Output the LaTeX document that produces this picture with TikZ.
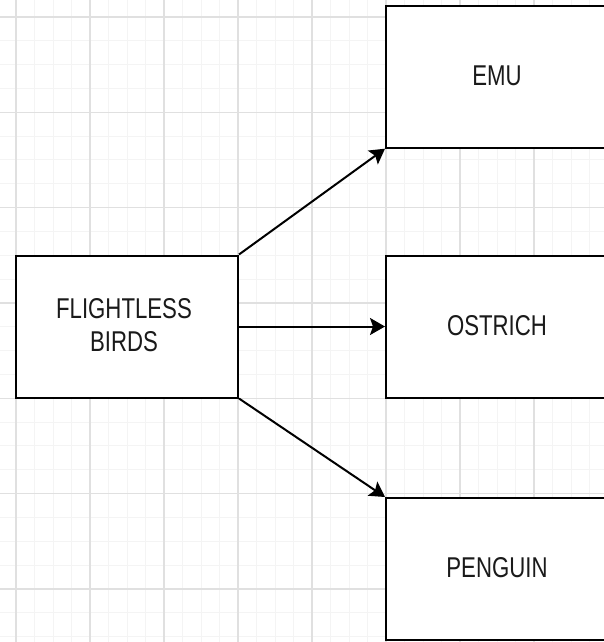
\documentclass[tikz,border=0pt]{standalone}
\usepackage{fontspec}
\setmainfont{Liberation Sans}
\usetikzlibrary{arrows.meta}
\definecolor{gridminor}{HTML}{F4F4F4}
\definecolor{gridmajor}{HTML}{E0E0E0}
\definecolor{txt}{HTML}{1A1A1A}
\newcommand{\lbl}[1]{\scalebox{1}[1.29]{\fontsize{22.2}{25.6}\selectfont\begin{tabular}{@{}c@{}}#1\end{tabular}}}
\tikzset{
  birdbox/.style={draw=black, line width=2pt, fill=white, rectangle, inner sep=0pt,
    minimum width=222pt, minimum height=142pt},
  birdtext/.style={inner sep=0pt, text=txt},
  link/.style={draw=black, line width=2pt, -{Stealth[length=15pt,width=17pt,inset=3pt]}},
}
\begin{document}
\begin{tikzpicture}[x=1pt,y=-1pt]
\useasboundingbox (0,0) rectangle (604,642);
\clip (0,0) rectangle (604,642);
\fill[white] (0,0) rectangle (604,642);
% minor grid
\foreach \k in {-1,...,32}{
  \pgfmathsetmacro{\xx}{16+18.5*\k}
  \draw[gridminor, line width=1pt] (\xx,0) -- (\xx,642);
}
\foreach \k in {-1,...,27}{
  \pgfmathsetmacro{\yy}{17+23.833*\k}
  \draw[gridminor, line width=1pt] (0,\yy) -- (604,\yy);
}
% major grid
\foreach \k in {-1,...,8}{
  \pgfmathsetmacro{\xx}{16+74*\k}
  \draw[gridmajor, line width=1.2pt] (\xx,0) -- (\xx,642);
}
\foreach \k in {-1,...,6}{
  \pgfmathsetmacro{\yy}{17+95.333*\k}
  \draw[gridmajor, line width=1.2pt] (0,\yy) -- (604,\yy);
}
% boxes
\node[birdbox] (fb) at (127,326.5) {};
\node[birdbox] (emu) at (497,76.7) {};
\node[birdbox] (ost) at (497,326.5) {};
\node[birdbox] (pen) at (497,569) {};
% texts
\node[birdtext] (fbt) at (124,328) {\lbl{FLIGHTLESS\\BIRDS}};
\node[birdtext] (emut) at (497,78.5) {\lbl{EMU}};
\node[birdtext] (ostt) at (497,328.5) {\lbl{OSTRICH}};
\node[birdtext] (pent) at (497,571) {\lbl{PENGUIN}};
% connectors
\draw[link] (fb.north east) -- (emu.south west);
\draw[link] (fb.east) -- (ost.west);
\draw[link] (fb.south east) -- (pen.north west);
\end{tikzpicture}
\end{document}
